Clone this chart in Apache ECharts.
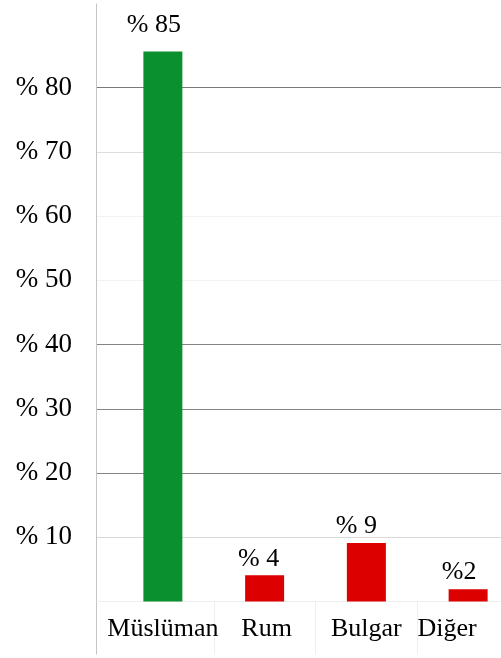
<!DOCTYPE html>
<html>
<head>
<meta charset="utf-8">
<script src="https://cdn.jsdelivr.net/npm/echarts@6/dist/echarts.min.js"></script>
<style>html,body{margin:0;padding:0;background:#fff}#c{width:501px;height:658px}</style>
</head>
<body>
<div id="c"></div>
<script>
var categories = ['Müslüman', 'Rum', 'Bulgar', 'Diğer'];
var values = [85.6, 4.1, 9.1, 1.9];
var valueLabels = ['% 85', '% 4', '% 9', '%2'];
var barColors = ['#0b902f', '#dd0000', '#dd0000', '#dd0000'];
var yTickValues = [10, 20, 30, 40, 50, 60, 70, 80];
var yTickPrefix = '% ';

var FONT = '"Liberation Serif", "Times New Roman", serif';
var Y_MIN = 0, Y_MAX = 93, Y_INT = 10;
// split line colours by tick (0,10,...,90,93)
var splitColors = ['#eeeeee', '#d8d8d8', '#858585', '#858585', '#858585', '#f2f2f2', '#f2f2f2', '#dedede', '#7a7a7a', 'rgba(0,0,0,0)', 'rgba(0,0,0,0)'];
// label cosmetics per bar (style only)
var labelDist = [13, 3, 4, 4];
var labelShift = [-9, -6, -10, -9];
var catPad = [[0, 0, 0, 0], [0, 0, 0, 4], [0, 0, 0, 0], [0, 42, 0, 0]];

var chart = echarts.init(document.getElementById('c'), null, {renderer: 'canvas'});
var option = {
  backgroundColor: '#ffffff',
  animation: false,
  grid: [
    {left: 96, right: -1, top: 4, bottom: 56.5, containLabel: false, outerBoundsMode: 'none'},
    {left: 112, right: -18, top: 4, bottom: 56.5, containLabel: false, outerBoundsMode: 'none'}
  ],
  xAxis: [
    {
      gridIndex: 0, type: 'value', min: 0, max: 1, interval: 1,
      axisLine: {show: true, lineStyle: {color: '#eeeeee', width: 1}},
      axisTick: {show: true, length: 53, lineStyle: {color: '#c4c4c4', width: 1}},
      axisLabel: {show: false},
      splitLine: {show: false}
    },
    {
      gridIndex: 1, type: 'category',
      data: categories.map(function (c, i) {
        return {value: c, textStyle: {padding: catPad[i]}};
      }),
      axisLine: {show: false},
      axisTick: {show: true, length: 53, interval: function (i) { return i !== 0; },
                 lineStyle: {color: '#efefef', width: 1}},
      axisLabel: {
        show: true, interval: 0, hideOverlap: false, margin: 15,
        fontFamily: FONT, fontSize: 26, color: '#000'
      },
      splitLine: {show: false}
    }
  ],
  yAxis: [
    {
      gridIndex: 0, type: 'value', min: Y_MIN, max: Y_MAX, interval: Y_INT,
      axisLine: {show: true, lineStyle: {color: '#c4c4c4', width: 1}},
      axisTick: {show: false},
      axisLabel: {
        show: true, margin: 24, fontFamily: FONT, fontSize: 27, color: '#000',
        formatter: function (v) {
          return yTickValues.indexOf(v) >= 0 ? yTickPrefix + v : '';
        }
      },
      splitLine: {show: true, lineStyle: {color: splitColors, width: 1}}
    },
    {
      gridIndex: 1, type: 'value', min: Y_MIN, max: Y_MAX, interval: Y_INT,
      axisLine: {show: false}, axisTick: {show: false},
      axisLabel: {show: false}, splitLine: {show: false}
    }
  ],
  series: [{
    type: 'bar',
    xAxisIndex: 1, yAxisIndex: 1,
    barWidth: 39,
    data: values.map(function (v, i) {
      return {
        value: v,
        itemStyle: {color: barColors[i]},
        label: {distance: labelDist[i], offset: [labelShift[i], 0]}
      };
    }),
    label: {
      show: true, position: 'top',
      fontFamily: FONT, fontSize: 26, color: '#000',
      formatter: function (p) { return valueLabels[p.dataIndex]; }
    }
  }]
};
chart.setOption(option);
</script>
</body>
</html>
